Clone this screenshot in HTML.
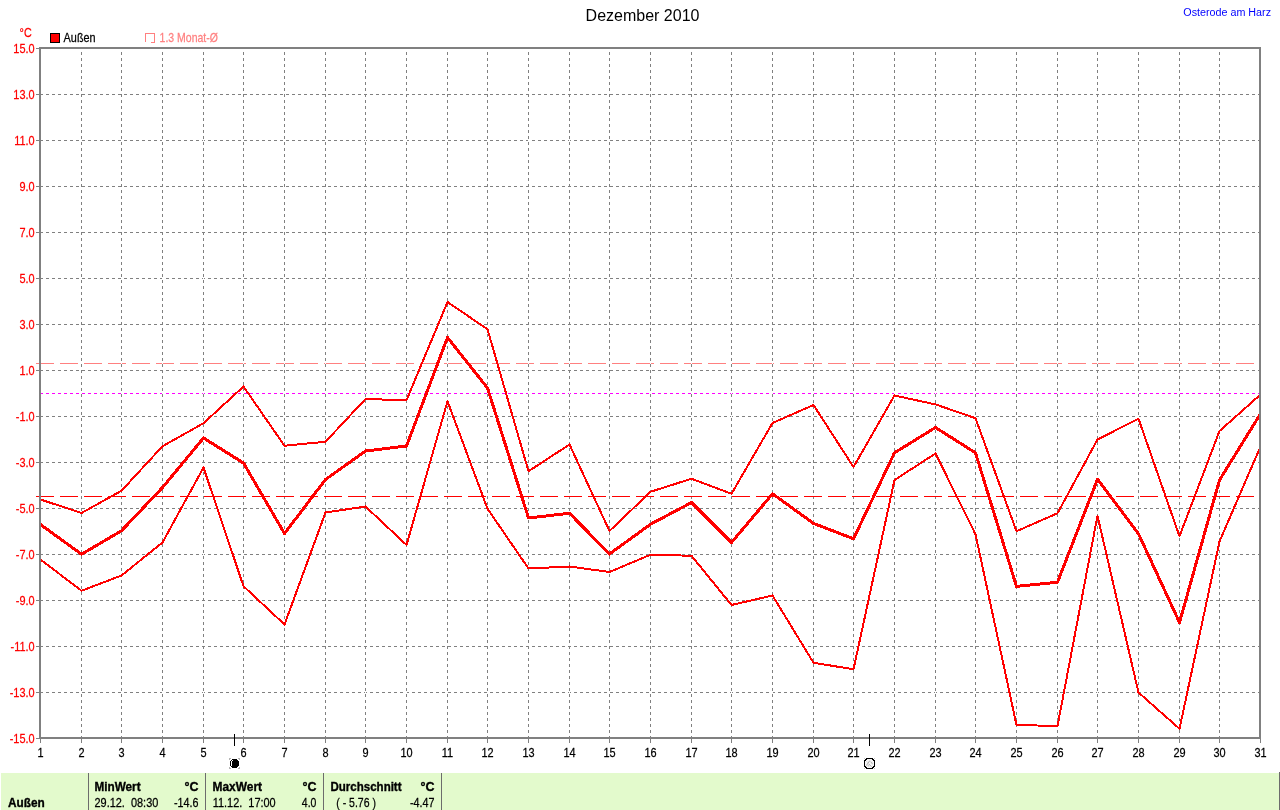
<!DOCTYPE html>
<html><head><meta charset="utf-8"><title>Dezember 2010</title>
<style>html,body{margin:0;padding:0;background:#fff;overflow:hidden}svg{display:block;will-change:transform}text{font-family:"Liberation Sans",sans-serif;}.r{font-size:12.5px;stroke-width:.25px}.b{font-size:12.5px;font-weight:bold;stroke-width:.35px}</style></head><body>
<svg width="1280" height="810" viewBox="0 0 1280 810">
<g shape-rendering="crispEdges" fill="none" stroke-width="1">
<line x1="36" y1="363.5" x2="1259" y2="363.5" stroke="#ff8080" stroke-dasharray="18 6"/>
<line x1="40" y1="94.5" x2="1259" y2="94.5" stroke="#808080" stroke-dasharray="3 3"/>
<line x1="40" y1="140.5" x2="1259" y2="140.5" stroke="#808080" stroke-dasharray="3 3"/>
<line x1="40" y1="186.5" x2="1259" y2="186.5" stroke="#808080" stroke-dasharray="3 3"/>
<line x1="40" y1="232.5" x2="1259" y2="232.5" stroke="#808080" stroke-dasharray="3 3"/>
<line x1="40" y1="278.5" x2="1259" y2="278.5" stroke="#808080" stroke-dasharray="3 3"/>
<line x1="40" y1="324.5" x2="1259" y2="324.5" stroke="#808080" stroke-dasharray="3 3"/>
<line x1="40" y1="370.5" x2="1259" y2="370.5" stroke="#808080" stroke-dasharray="3 3"/>
<line x1="40" y1="416.5" x2="1259" y2="416.5" stroke="#808080" stroke-dasharray="3 3"/>
<line x1="40" y1="462.5" x2="1259" y2="462.5" stroke="#808080" stroke-dasharray="3 3"/>
<line x1="40" y1="508.5" x2="1259" y2="508.5" stroke="#808080" stroke-dasharray="3 3"/>
<line x1="40" y1="554.5" x2="1259" y2="554.5" stroke="#808080" stroke-dasharray="3 3"/>
<line x1="40" y1="600.5" x2="1259" y2="600.5" stroke="#808080" stroke-dasharray="3 3"/>
<line x1="40" y1="646.5" x2="1259" y2="646.5" stroke="#808080" stroke-dasharray="3 3"/>
<line x1="40" y1="692.5" x2="1259" y2="692.5" stroke="#808080" stroke-dasharray="3 3"/>
<line x1="40" y1="393.5" x2="1259" y2="393.5" stroke="#ff00ff" stroke-dasharray="3 3"/>
<line x1="81.5" y1="52" x2="81.5" y2="737" stroke="#fff"/>
<line x1="121.5" y1="52" x2="121.5" y2="737" stroke="#fff"/>
<line x1="162.5" y1="52" x2="162.5" y2="737" stroke="#fff"/>
<line x1="203.5" y1="52" x2="203.5" y2="737" stroke="#fff"/>
<line x1="243.5" y1="52" x2="243.5" y2="737" stroke="#fff"/>
<line x1="284.5" y1="52" x2="284.5" y2="737" stroke="#fff"/>
<line x1="325.5" y1="52" x2="325.5" y2="737" stroke="#fff"/>
<line x1="365.5" y1="52" x2="365.5" y2="737" stroke="#fff"/>
<line x1="406.5" y1="52" x2="406.5" y2="737" stroke="#fff"/>
<line x1="447.5" y1="52" x2="447.5" y2="737" stroke="#fff"/>
<line x1="487.5" y1="52" x2="487.5" y2="737" stroke="#fff"/>
<line x1="528.5" y1="52" x2="528.5" y2="737" stroke="#fff"/>
<line x1="569.5" y1="52" x2="569.5" y2="737" stroke="#fff"/>
<line x1="609.5" y1="52" x2="609.5" y2="737" stroke="#fff"/>
<line x1="650.5" y1="52" x2="650.5" y2="737" stroke="#fff"/>
<line x1="691.5" y1="52" x2="691.5" y2="737" stroke="#fff"/>
<line x1="731.5" y1="52" x2="731.5" y2="737" stroke="#fff"/>
<line x1="772.5" y1="52" x2="772.5" y2="737" stroke="#fff"/>
<line x1="813.5" y1="52" x2="813.5" y2="737" stroke="#fff"/>
<line x1="853.5" y1="52" x2="853.5" y2="737" stroke="#fff"/>
<line x1="894.5" y1="52" x2="894.5" y2="737" stroke="#fff"/>
<line x1="935.5" y1="52" x2="935.5" y2="737" stroke="#fff"/>
<line x1="975.5" y1="52" x2="975.5" y2="737" stroke="#fff"/>
<line x1="1016.5" y1="52" x2="1016.5" y2="737" stroke="#fff"/>
<line x1="1057.5" y1="52" x2="1057.5" y2="737" stroke="#fff"/>
<line x1="1097.5" y1="52" x2="1097.5" y2="737" stroke="#fff"/>
<line x1="1138.5" y1="52" x2="1138.5" y2="737" stroke="#fff"/>
<line x1="1179.5" y1="52" x2="1179.5" y2="737" stroke="#fff"/>
<line x1="1219.5" y1="52" x2="1219.5" y2="737" stroke="#fff"/>
<line x1="81.5" y1="52" x2="81.5" y2="739" stroke="#808080" stroke-dasharray="3 3"/>
<line x1="121.5" y1="52" x2="121.5" y2="739" stroke="#808080" stroke-dasharray="3 3"/>
<line x1="162.5" y1="52" x2="162.5" y2="739" stroke="#808080" stroke-dasharray="3 3"/>
<line x1="203.5" y1="52" x2="203.5" y2="739" stroke="#808080" stroke-dasharray="3 3"/>
<line x1="243.5" y1="52" x2="243.5" y2="739" stroke="#808080" stroke-dasharray="3 3"/>
<line x1="284.5" y1="52" x2="284.5" y2="739" stroke="#808080" stroke-dasharray="3 3"/>
<line x1="325.5" y1="52" x2="325.5" y2="739" stroke="#808080" stroke-dasharray="3 3"/>
<line x1="365.5" y1="52" x2="365.5" y2="739" stroke="#808080" stroke-dasharray="3 3"/>
<line x1="406.5" y1="52" x2="406.5" y2="739" stroke="#808080" stroke-dasharray="3 3"/>
<line x1="447.5" y1="52" x2="447.5" y2="739" stroke="#808080" stroke-dasharray="3 3"/>
<line x1="487.5" y1="52" x2="487.5" y2="739" stroke="#808080" stroke-dasharray="3 3"/>
<line x1="528.5" y1="52" x2="528.5" y2="739" stroke="#808080" stroke-dasharray="3 3"/>
<line x1="569.5" y1="52" x2="569.5" y2="739" stroke="#808080" stroke-dasharray="3 3"/>
<line x1="609.5" y1="52" x2="609.5" y2="739" stroke="#808080" stroke-dasharray="3 3"/>
<line x1="650.5" y1="52" x2="650.5" y2="739" stroke="#808080" stroke-dasharray="3 3"/>
<line x1="691.5" y1="52" x2="691.5" y2="739" stroke="#808080" stroke-dasharray="3 3"/>
<line x1="731.5" y1="52" x2="731.5" y2="739" stroke="#808080" stroke-dasharray="3 3"/>
<line x1="772.5" y1="52" x2="772.5" y2="739" stroke="#808080" stroke-dasharray="3 3"/>
<line x1="813.5" y1="52" x2="813.5" y2="739" stroke="#808080" stroke-dasharray="3 3"/>
<line x1="853.5" y1="52" x2="853.5" y2="739" stroke="#808080" stroke-dasharray="3 3"/>
<line x1="894.5" y1="52" x2="894.5" y2="739" stroke="#808080" stroke-dasharray="3 3"/>
<line x1="935.5" y1="52" x2="935.5" y2="739" stroke="#808080" stroke-dasharray="3 3"/>
<line x1="975.5" y1="52" x2="975.5" y2="739" stroke="#808080" stroke-dasharray="3 3"/>
<line x1="1016.5" y1="52" x2="1016.5" y2="739" stroke="#808080" stroke-dasharray="3 3"/>
<line x1="1057.5" y1="52" x2="1057.5" y2="739" stroke="#808080" stroke-dasharray="3 3"/>
<line x1="1097.5" y1="52" x2="1097.5" y2="739" stroke="#808080" stroke-dasharray="3 3"/>
<line x1="1138.5" y1="52" x2="1138.5" y2="739" stroke="#808080" stroke-dasharray="3 3"/>
<line x1="1179.5" y1="52" x2="1179.5" y2="739" stroke="#808080" stroke-dasharray="3 3"/>
<line x1="1219.5" y1="52" x2="1219.5" y2="739" stroke="#808080" stroke-dasharray="3 3"/>
<line x1="36" y1="496.5" x2="1259" y2="496.5" stroke="#ff0000" stroke-dasharray="18 6"/>
</g>
<clipPath id="c"><rect x="39" y="47" width="1221" height="692"/></clipPath>
<g clip-path="url(#c)" shape-rendering="crispEdges" fill="none" stroke="#ff0000" stroke-linejoin="round" stroke-linecap="round">
<polyline stroke-width="2" points="40.50,499.50 81.50,513.00 121.50,490.75 162.50,446.25 203.50,423.25 243.50,386.50 284.50,445.75 325.50,441.75 365.50,399.00 406.50,400.25 447.50,302.00 487.50,329.25 528.50,471.25 569.50,444.50 609.50,531.00 650.50,491.75 691.50,478.75 731.50,493.75 772.50,423.00 813.50,405.00 853.50,467.00 894.50,395.50 935.50,404.40 975.50,418.20 1016.50,531.25 1057.50,513.25 1097.50,439.50 1138.50,418.75 1179.50,536.25 1219.50,431.00 1260.50,394.50"/>
<polyline stroke-width="2" points="40.50,559.50 81.50,590.75 121.50,575.50 162.50,542.50 203.50,467.50 243.50,586.25 284.50,624.50 325.50,512.50 365.50,506.50 406.50,545.00 447.50,401.25 487.50,508.75 528.50,568.50 569.50,566.50 609.50,572.00 650.50,554.75 691.50,555.75 731.50,605.00 772.50,595.50 813.50,662.75 853.50,669.25 894.50,480.00 935.50,453.50 975.50,534.25 1016.50,725.00 1057.50,726.00 1097.50,515.75 1138.50,692.50 1179.50,728.75 1219.50,541.50 1260.50,446.50"/>
<polyline stroke-width="3" points="40.50,524.50 81.50,554.25 121.50,530.75 162.50,487.50 203.50,438.00 243.50,463.00 284.50,533.50 325.50,479.50 365.50,451.00 406.50,446.00 447.50,337.50 487.50,388.00 528.50,518.00 569.50,513.25 609.50,554.00 650.50,524.25 691.50,502.50 731.50,542.50 772.50,493.75 813.50,523.40 853.50,538.75 894.50,452.80 935.50,427.50 975.50,452.80 1016.50,586.40 1057.50,582.20 1097.50,479.25 1138.50,533.75 1179.50,622.50 1219.50,480.00 1260.50,413.75"/>
</g>
<g shape-rendering="crispEdges" fill="#808080" stroke="none">
<rect x="39" y="47" width="2" height="692"/>
<rect x="39" y="47" width="1222" height="2"/>
<rect x="1259" y="47" width="2" height="692"/>
<rect x="39" y="737" width="1222" height="2"/>
<rect x="36" y="48" width="3" height="1"/>
<rect x="36" y="94" width="3" height="1"/>
<rect x="36" y="140" width="3" height="1"/>
<rect x="36" y="186" width="3" height="1"/>
<rect x="36" y="232" width="3" height="1"/>
<rect x="36" y="278" width="3" height="1"/>
<rect x="36" y="324" width="3" height="1"/>
<rect x="36" y="370" width="3" height="1"/>
<rect x="36" y="416" width="3" height="1"/>
<rect x="36" y="462" width="3" height="1"/>
<rect x="36" y="508" width="3" height="1"/>
<rect x="36" y="554" width="3" height="1"/>
<rect x="36" y="600" width="3" height="1"/>
<rect x="36" y="646" width="3" height="1"/>
<rect x="36" y="692" width="3" height="1"/>
<rect x="36" y="738" width="3" height="1"/>
<rect x="40" y="739" width="1" height="4"/>
<rect x="81" y="739" width="1" height="4"/>
<rect x="121" y="739" width="1" height="4"/>
<rect x="162" y="739" width="1" height="4"/>
<rect x="203" y="739" width="1" height="4"/>
<rect x="243" y="739" width="1" height="4"/>
<rect x="284" y="739" width="1" height="4"/>
<rect x="325" y="739" width="1" height="4"/>
<rect x="365" y="739" width="1" height="4"/>
<rect x="406" y="739" width="1" height="4"/>
<rect x="447" y="739" width="1" height="4"/>
<rect x="487" y="739" width="1" height="4"/>
<rect x="528" y="739" width="1" height="4"/>
<rect x="569" y="739" width="1" height="4"/>
<rect x="609" y="739" width="1" height="4"/>
<rect x="650" y="739" width="1" height="4"/>
<rect x="691" y="739" width="1" height="4"/>
<rect x="731" y="739" width="1" height="4"/>
<rect x="772" y="739" width="1" height="4"/>
<rect x="813" y="739" width="1" height="4"/>
<rect x="853" y="739" width="1" height="4"/>
<rect x="894" y="739" width="1" height="4"/>
<rect x="935" y="739" width="1" height="4"/>
<rect x="975" y="739" width="1" height="4"/>
<rect x="1016" y="739" width="1" height="4"/>
<rect x="1057" y="739" width="1" height="4"/>
<rect x="1097" y="739" width="1" height="4"/>
<rect x="1138" y="739" width="1" height="4"/>
<rect x="1179" y="739" width="1" height="4"/>
<rect x="1219" y="739" width="1" height="4"/>
<rect x="1260" y="739" width="1" height="4"/>
</g>
<g fill="#ff0000" stroke="#ff0000">
<text class="r" transform="translate(34.6 53) scale(0.875 1)" text-anchor="end">15.0</text>
<text class="r" transform="translate(34.6 99) scale(0.875 1)" text-anchor="end">13.0</text>
<text class="r" transform="translate(34.6 145) scale(0.875 1)" text-anchor="end">11.0</text>
<text class="r" transform="translate(34.6 191) scale(0.875 1)" text-anchor="end">9.0</text>
<text class="r" transform="translate(34.6 237) scale(0.875 1)" text-anchor="end">7.0</text>
<text class="r" transform="translate(34.6 283) scale(0.875 1)" text-anchor="end">5.0</text>
<text class="r" transform="translate(34.6 329) scale(0.875 1)" text-anchor="end">3.0</text>
<text class="r" transform="translate(34.6 375) scale(0.875 1)" text-anchor="end">1.0</text>
<text class="r" transform="translate(34.6 421) scale(0.875 1)" text-anchor="end">-1.0</text>
<text class="r" transform="translate(34.6 467) scale(0.875 1)" text-anchor="end">-3.0</text>
<text class="r" transform="translate(34.6 513) scale(0.875 1)" text-anchor="end">-5.0</text>
<text class="r" transform="translate(34.6 559) scale(0.875 1)" text-anchor="end">-7.0</text>
<text class="r" transform="translate(34.6 605) scale(0.875 1)" text-anchor="end">-9.0</text>
<text class="r" transform="translate(34.6 651) scale(0.875 1)" text-anchor="end">-11.0</text>
<text class="r" transform="translate(34.6 697) scale(0.875 1)" text-anchor="end">-13.0</text>
<text class="r" transform="translate(34.6 743) scale(0.875 1)" text-anchor="end">-15.0</text>
</g>
<text class="r" transform="translate(19.6 37) scale(0.86 1)" fill="#ff0000" stroke="#ff0000">°C</text>
<g fill="#000" stroke="#000">
<text class="r" transform="translate(40.5 757) scale(0.875 1)" text-anchor="middle">1</text>
<text class="r" transform="translate(81.5 757) scale(0.875 1)" text-anchor="middle">2</text>
<text class="r" transform="translate(121.5 757) scale(0.875 1)" text-anchor="middle">3</text>
<text class="r" transform="translate(162.5 757) scale(0.875 1)" text-anchor="middle">4</text>
<text class="r" transform="translate(203.5 757) scale(0.875 1)" text-anchor="middle">5</text>
<text class="r" transform="translate(243.5 757) scale(0.875 1)" text-anchor="middle">6</text>
<text class="r" transform="translate(284.5 757) scale(0.875 1)" text-anchor="middle">7</text>
<text class="r" transform="translate(325.5 757) scale(0.875 1)" text-anchor="middle">8</text>
<text class="r" transform="translate(365.5 757) scale(0.875 1)" text-anchor="middle">9</text>
<text class="r" transform="translate(406.5 757) scale(0.875 1)" text-anchor="middle">10</text>
<text class="r" transform="translate(447.5 757) scale(0.875 1)" text-anchor="middle">11</text>
<text class="r" transform="translate(487.5 757) scale(0.875 1)" text-anchor="middle">12</text>
<text class="r" transform="translate(528.5 757) scale(0.875 1)" text-anchor="middle">13</text>
<text class="r" transform="translate(569.5 757) scale(0.875 1)" text-anchor="middle">14</text>
<text class="r" transform="translate(609.5 757) scale(0.875 1)" text-anchor="middle">15</text>
<text class="r" transform="translate(650.5 757) scale(0.875 1)" text-anchor="middle">16</text>
<text class="r" transform="translate(691.5 757) scale(0.875 1)" text-anchor="middle">17</text>
<text class="r" transform="translate(731.5 757) scale(0.875 1)" text-anchor="middle">18</text>
<text class="r" transform="translate(772.5 757) scale(0.875 1)" text-anchor="middle">19</text>
<text class="r" transform="translate(813.5 757) scale(0.875 1)" text-anchor="middle">20</text>
<text class="r" transform="translate(853.5 757) scale(0.875 1)" text-anchor="middle">21</text>
<text class="r" transform="translate(894.5 757) scale(0.875 1)" text-anchor="middle">22</text>
<text class="r" transform="translate(935.5 757) scale(0.875 1)" text-anchor="middle">23</text>
<text class="r" transform="translate(975.5 757) scale(0.875 1)" text-anchor="middle">24</text>
<text class="r" transform="translate(1016.5 757) scale(0.875 1)" text-anchor="middle">25</text>
<text class="r" transform="translate(1057.5 757) scale(0.875 1)" text-anchor="middle">26</text>
<text class="r" transform="translate(1097.5 757) scale(0.875 1)" text-anchor="middle">27</text>
<text class="r" transform="translate(1138.5 757) scale(0.875 1)" text-anchor="middle">28</text>
<text class="r" transform="translate(1179.5 757) scale(0.875 1)" text-anchor="middle">29</text>
<text class="r" transform="translate(1219.5 757) scale(0.875 1)" text-anchor="middle">30</text>
<text class="r" transform="translate(1260.5 757) scale(0.875 1)" text-anchor="middle">31</text>
</g>
<text x="642.5" y="21" font-size="16px" text-anchor="middle" fill="#000">Dezember 2010</text>
<text transform="translate(1271 16) scale(0.978 1)" font-size="11px" text-anchor="end" fill="#0000ff">Osterode am Harz</text>
<rect x="50.5" y="33.5" width="9" height="9" fill="#ff0000" stroke="#000" stroke-width="1" shape-rendering="crispEdges"/>
<text class="r" transform="translate(63.6 42) scale(0.87 1)" fill="#000" stroke="#000">Außen</text>
<path d="M145.5 42V33.5H154.5V42.5H151" fill="none" stroke="#ff8080" stroke-width="1" shape-rendering="crispEdges"/>
<text class="r" transform="translate(159.6 42) scale(0.84 1)" fill="#ff8080" stroke="#ff8080">1.3 Monat-Ø</text>
<g shape-rendering="crispEdges">
<rect x="234" y="734" width="1" height="12" fill="#000"/>
<rect x="869" y="734" width="1" height="12" fill="#000"/>
</g>
<g shape-rendering="crispEdges">
<rect x="232" y="759" width="5" height="1" fill="#000"/>
<rect x="231" y="760" width="7" height="1" fill="#000"/>
<rect x="230" y="761" width="9" height="5" fill="#000"/>
<rect x="231" y="766" width="7" height="1" fill="#000"/>
<rect x="232" y="767" width="5" height="1" fill="#000"/>
<rect x="231" y="761" width="1" height="5" fill="#fff"/>
<rect x="232" y="760" width="1" height="1" fill="#fff"/>
<rect x="229" y="758" width="2" height="1" fill="#b4b4b4"/>
<rect x="229" y="759" width="1" height="1" fill="#b4b4b4"/>
<rect x="238" y="758" width="2" height="1" fill="#b4b4b4"/>
<rect x="239" y="759" width="1" height="1" fill="#b4b4b4"/>
<rect x="229" y="768" width="2" height="1" fill="#b4b4b4"/>
<rect x="229" y="767" width="1" height="1" fill="#b4b4b4"/>
<rect x="238" y="768" width="2" height="1" fill="#b4b4b4"/>
<rect x="239" y="767" width="1" height="1" fill="#b4b4b4"/>
<path d="M866 759H873L874 760V767L873 768H866L865 767V760Z" fill="#f6f6f6" stroke="none"/>
<path d="M866.3 765.6L869.8 760.6M868.6 763.8L871.6 766.8M870.5 761.8q1.8 0.4 1.8 2.4M866.8 761.6l0.8 0.8M868.2 766.4v-1.2" fill="none" stroke="#a4a4a4" stroke-width="0.9" shape-rendering="auto"/>
<rect x="866" y="758" width="7" height="1" fill="#000"/>
<rect x="866" y="768" width="7" height="1" fill="#000"/>
<rect x="864" y="760" width="1" height="7" fill="#000"/>
<rect x="874" y="760" width="1" height="7" fill="#000"/>
<rect x="865" y="759" width="2" height="1" fill="#000"/>
<rect x="872" y="759" width="2" height="1" fill="#000"/>
<rect x="865" y="767" width="2" height="1" fill="#000"/>
<rect x="872" y="767" width="2" height="1" fill="#000"/>
<rect x="865" y="760" width="1" height="1" fill="#000"/>
<rect x="873" y="760" width="1" height="1" fill="#000"/>
<rect x="865" y="766" width="1" height="1" fill="#000"/>
<rect x="873" y="766" width="1" height="1" fill="#000"/>
<rect x="864" y="758" width="1" height="1" fill="#c8c8c8"/>
<rect x="874" y="758" width="1" height="1" fill="#c8c8c8"/>
<rect x="864" y="768" width="1" height="1" fill="#c8c8c8"/>
<rect x="874" y="768" width="1" height="1" fill="#c8c8c8"/>
</g>
<g shape-rendering="crispEdges">
<rect x="1" y="773" width="1278" height="37" fill="#e3facc"/>
<rect x="88" y="773" width="1" height="37" fill="#6c6c6c"/>
<rect x="205" y="773" width="1" height="37" fill="#6c6c6c"/>
<rect x="323" y="773" width="1" height="37" fill="#6c6c6c"/>
<rect x="441" y="773" width="1" height="37" fill="#6c6c6c"/>
<rect x="1279" y="772" width="1" height="38" fill="#6c6c6c"/>
</g>
<g fill="#000" stroke="#000">
<text class="b" transform="translate(8 807) scale(0.945 1)">Außen</text>
<text class="b" transform="translate(94.5 791) scale(0.94 1)">MinWert</text>
<text class="b" transform="translate(198.6 791) scale(1.0 1)" text-anchor="end">°C</text>
<text class="r" transform="translate(94.5 807) scale(0.875 1)" xml:space="preserve">29.12.  08:30</text>
<text class="r" transform="translate(198.4 807) scale(0.86 1)" text-anchor="end">-14.6</text>
<text class="b" transform="translate(212.5 791) scale(0.955 1)">MaxWert</text>
<text class="b" transform="translate(316.6 791) scale(1.0 1)" text-anchor="end">°C</text>
<text class="r" transform="translate(212.7 807) scale(0.875 1)" xml:space="preserve">11.12.  17:00</text>
<text class="r" transform="translate(316.4 807) scale(0.84 1)" text-anchor="end">4.0</text>
<text class="b" transform="translate(330.5 791) scale(0.922 1)">Durchschnitt</text>
<text class="b" transform="translate(434.6 791) scale(1.0 1)" text-anchor="end">°C</text>
<text class="r" transform="translate(336.3 807) scale(0.84 1)">( - 5.76 )</text>
<text class="r" transform="translate(434.4 807) scale(0.86 1)" text-anchor="end">-4.47</text>
</g>
</svg></body></html>
